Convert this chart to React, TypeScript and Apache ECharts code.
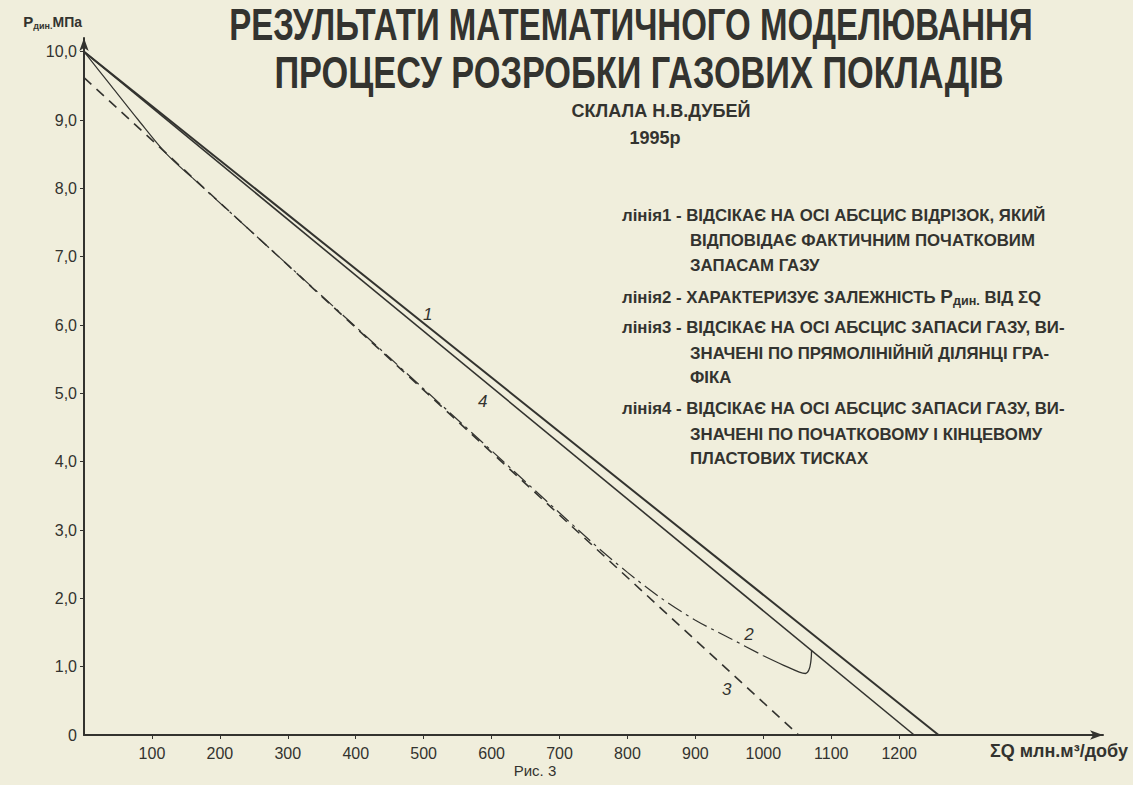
import React, { useEffect, useRef } from "react";
import * as echarts from "echarts";

// ---- data ----
const xTickValues = [100, 200, 300, 400, 500, 600, 700, 800, 900, 1000, 1100, 1200];
const yTickValues = [0, 1, 2, 3, 4, 5, 6, 7, 8, 9, 10];

// line 1: actual initial reserves
const line1 = [[0, 10.0], [1258, 0]];
// line 4: through initial and final pressures
const line4 = [[0, 10.0], [1222, 0]];
// line 3: tangent to straight section
const line3 = [[0, 9.62], [1052, 0]];
// line 2: P_din vs ΣQ (split into drawn segments)
const curve2Start = [[0, 10.0], [40, 9.5], [80, 9.0], [120, 8.52], [160, 8.15]];
const curve2Middle = [[160, 8.15], [300, 6.88], [450, 5.52], [600, 4.16], [750, 2.8], [800, 2.38], [850, 2.0], [900, 1.68], [950, 1.42], [1000, 1.16]];
const curve2End = [[1000, 1.16], [1030, 1.02], [1053, 0.92], [1062, 0.9], [1067, 0.95], [1070, 1.08], [1071, 1.24]];

const lineLabels = [
  { name: "1", coord: [506, 6.15] },
  { name: "4", coord: [587, 4.88] },
  { name: "2", coord: [979, 1.47] },
  { name: "3", coord: [946, 0.66] },
];

const titleLines = ["РЕЗУЛЬТАТИ МАТЕМАТИЧНОГО МОДЕЛЮВАННЯ", "ПРОЦЕСУ РОЗРОБКИ ГАЗОВИХ ПОКЛАДІВ"];
const authorLines = ["СКЛАЛА Н.В.ДУБЕЙ", "1995р"];
const noteLines = [
  { head: "лінія1 - ", text: "ВІДСІКАЄ НА ОСІ АБСЦИС ВІДРІЗОК, ЯКИЙ" },
  { head: "", text: "ВІДПОВІДАЄ ФАКТИЧНИМ ПОЧАТКОВИМ" },
  { head: "", text: "ЗАПАСАМ ГАЗУ" },
  { head: "лінія2 - ", text: "ХАРАКТЕРИЗУЄ ЗАЛЕЖНІСТЬ {p|Р}{s|дин.} ВІД ΣQ" },
  { head: "лінія3 - ", text: "ВІДСІКАЄ НА ОСІ АБСЦИС ЗАПАСИ ГАЗУ, ВИ-" },
  { head: "", text: "ЗНАЧЕНІ ПО ПРЯМОЛІНІЙНІЙ ДІЛЯНЦІ ГРА-" },
  { head: "", text: "ФІКА" },
  { head: "лінія4 - ", text: "ВІДСІКАЄ НА ОСІ АБСЦИС ЗАПАСИ ГАЗУ, ВИ-" },
  { head: "", text: "ЗНАЧЕНІ ПО ПОЧАТКОВОМУ І КІНЦЕВОМУ" },
  { head: "", text: "ПЛАСТОВИХ ТИСКАХ" },
];
const noteY = [215, 240, 265, 297, 327, 353, 377, 408, 434, 458];
const caption = "Рис. 3";

const INK = "#33332f";
const FONT = "'Liberation Sans', Arial, sans-serif";

export default function App() {
  const ref = useRef<HTMLDivElement>(null);
  useEffect(() => {
    if (!ref.current) return;
    const chart = echarts.init(ref.current, null, { renderer: "svg" });

    const graphics: any[] = [];
    titleLines.forEach((t, i) => {
      graphics.push({
        type: "text",
        x: i === 0 ? 631 : 639,
        y: i === 0 ? 25 : 72,
        scaleX: i === 0 ? 0.75 : 0.78,
        style: {
          text: t,
          fontFamily: FONT,
          fontWeight: "bold",
          fontSize: 44,
          fill: INK,
          align: "center",
          verticalAlign: "middle",
        },
      });
    });
    authorLines.forEach((t, i) => {
      graphics.push({
        type: "text",
        x: i === 0 ? 661 : 655,
        y: i === 0 ? 110 : 137,
        scaleX: 0.95,
        style: {
          text: t,
          fontFamily: FONT,
          fontWeight: "bold",
          fontSize: 19,
          fill: INK,
          align: "center",
          verticalAlign: "middle",
        },
      });
    });
    noteLines.forEach((l, i) => {
      const full = l.head ? `{h|${l.head}}${l.text}` : l.text;
      graphics.push({
        type: "text",
        x: l.head ? 622 : 690,
        y: noteY[i],
        scaleX: 1.05,
        style: {
          text: full,
          fontFamily: FONT,
          fontWeight: "bold",
          fontSize: 16,
          fill: INK,
          align: "left",
          verticalAlign: "middle",
          rich: {
            h: { fontFamily: FONT, fontWeight: "bold", fontSize: 16, fill: INK },
            p: { fontFamily: FONT, fontWeight: "bold", fontSize: 18, fill: INK },
            s: { fontFamily: FONT, fontWeight: "bold", fontSize: 12, fill: INK, padding: [8, 0, 0, 0] },
          },
        },
      });
    });
    graphics.push({
      type: "text",
      x: 535,
      y: 770,
      style: {
        text: caption,
        fontFamily: FONT,
        fontSize: 15,
        fill: INK,
        align: "center",
        verticalAlign: "middle",
      },
    });

    const labelMark = (idx: number) => ({
      symbol: "circle",
      symbolSize: 0,
      silent: true,
      label: {
        show: true,
        formatter: lineLabels[idx].name,
        fontFamily: FONT,
        fontSize: 17,
        fontStyle: "italic",
        color: INK,
        position: "inside",
      },
      data: [{ name: lineLabels[idx].name, coord: lineLabels[idx].coord }],
    });

    chart.setOption({
      animation: false,
      backgroundColor: "#f0eedc",
      grid: { left: 84, right: 30, top: 38, bottom: 50, containLabel: false },
      xAxis: {
        type: "value",
        min: 0,
        max: 1500,
        interval: 100,
        name: "ΣQ млн.м³/добу",
        nameLocation: "end",
        nameGap: 25,
        nameTextStyle: {
          fontFamily: FONT,
          fontWeight: "bold",
          fontSize: 18,
          color: INK,
          align: "right",
          verticalAlign: "top",
          padding: [7, 0, 0, 0],
        },
        axisLine: { show: true, symbol: ["none", "arrow"], symbolSize: [7, 13], lineStyle: { color: INK, width: 2 } },
        axisTick: { show: true, length: 4, customValues: xTickValues, lineStyle: { color: INK } },
        axisLabel: {
          customValues: xTickValues,
          margin: 10,
          fontFamily: FONT,
          fontSize: 16,
          color: INK,
          formatter: (v: number) => String(v),
        },
        splitLine: { show: false },
      },
      yAxis: {
        type: "value",
        min: 0,
        max: 10.2,
        interval: 1,
        name: "{p|Р}{s|дин.}{u|МПа}",
        nameLocation: "end",
        nameGap: 8,
        nameTextStyle: {
          align: "right",
          padding: [0, 2, 0, 0],
          rich: {
            p: { fontFamily: FONT, fontWeight: "bold", fontSize: 15, color: INK },
            s: { fontFamily: FONT, fontWeight: "bold", fontSize: 9, color: INK, padding: [8, 0, 0, 0] },
            u: { fontFamily: FONT, fontWeight: "bold", fontSize: 14, color: INK },
          },
        },
        axisLine: { show: true, symbol: ["none", "arrow"], symbolSize: [7, 13], lineStyle: { color: INK, width: 2 } },
        axisTick: { show: true, length: 4, customValues: yTickValues.filter((v) => v > 0), lineStyle: { color: INK } },
        axisLabel: {
          customValues: yTickValues,
          margin: 7,
          fontFamily: FONT,
          fontSize: 16,
          color: INK,
          formatter: (v: number) => (v === 0 ? "0" : v.toFixed(1).replace(".", ",")),
        },
        splitLine: { show: false },
      },
      series: [
        {
          name: "1",
          type: "line",
          data: line1,
          symbol: "none",
          lineStyle: { color: INK, width: 2 },
          markPoint: labelMark(0),
        },
        {
          name: "4",
          type: "line",
          data: line4,
          symbol: "none",
          lineStyle: { color: INK, width: 1.6 },
          markPoint: labelMark(1),
        },
        {
          name: "3",
          type: "line",
          data: line3,
          symbol: "none",
          lineStyle: { color: INK, width: 1.6, type: [10, 7] },
          markPoint: labelMark(3),
        },
        {
          name: "2a",
          type: "line",
          data: curve2Start,
          symbol: "none",
          smooth: 0.3,
          lineStyle: { color: INK, width: 1.2 },
        },
        {
          name: "2",
          type: "line",
          data: curve2Middle,
          symbol: "none",
          smooth: 0.3,
          lineStyle: { color: INK, width: 1.2, type: [16, 5, 3, 5] },
          markPoint: labelMark(2),
        },
        {
          name: "2b",
          type: "line",
          data: curve2End,
          symbol: "none",
          smooth: 0.4,
          lineStyle: { color: INK, width: 1.3 },
        },
      ],
      graphic: graphics,
    });
    return () => chart.dispose();
  }, []);
  return <div ref={ref} style={{ position: "fixed", left: 0, top: 0, width: 1133, height: 785 }} />;
}
